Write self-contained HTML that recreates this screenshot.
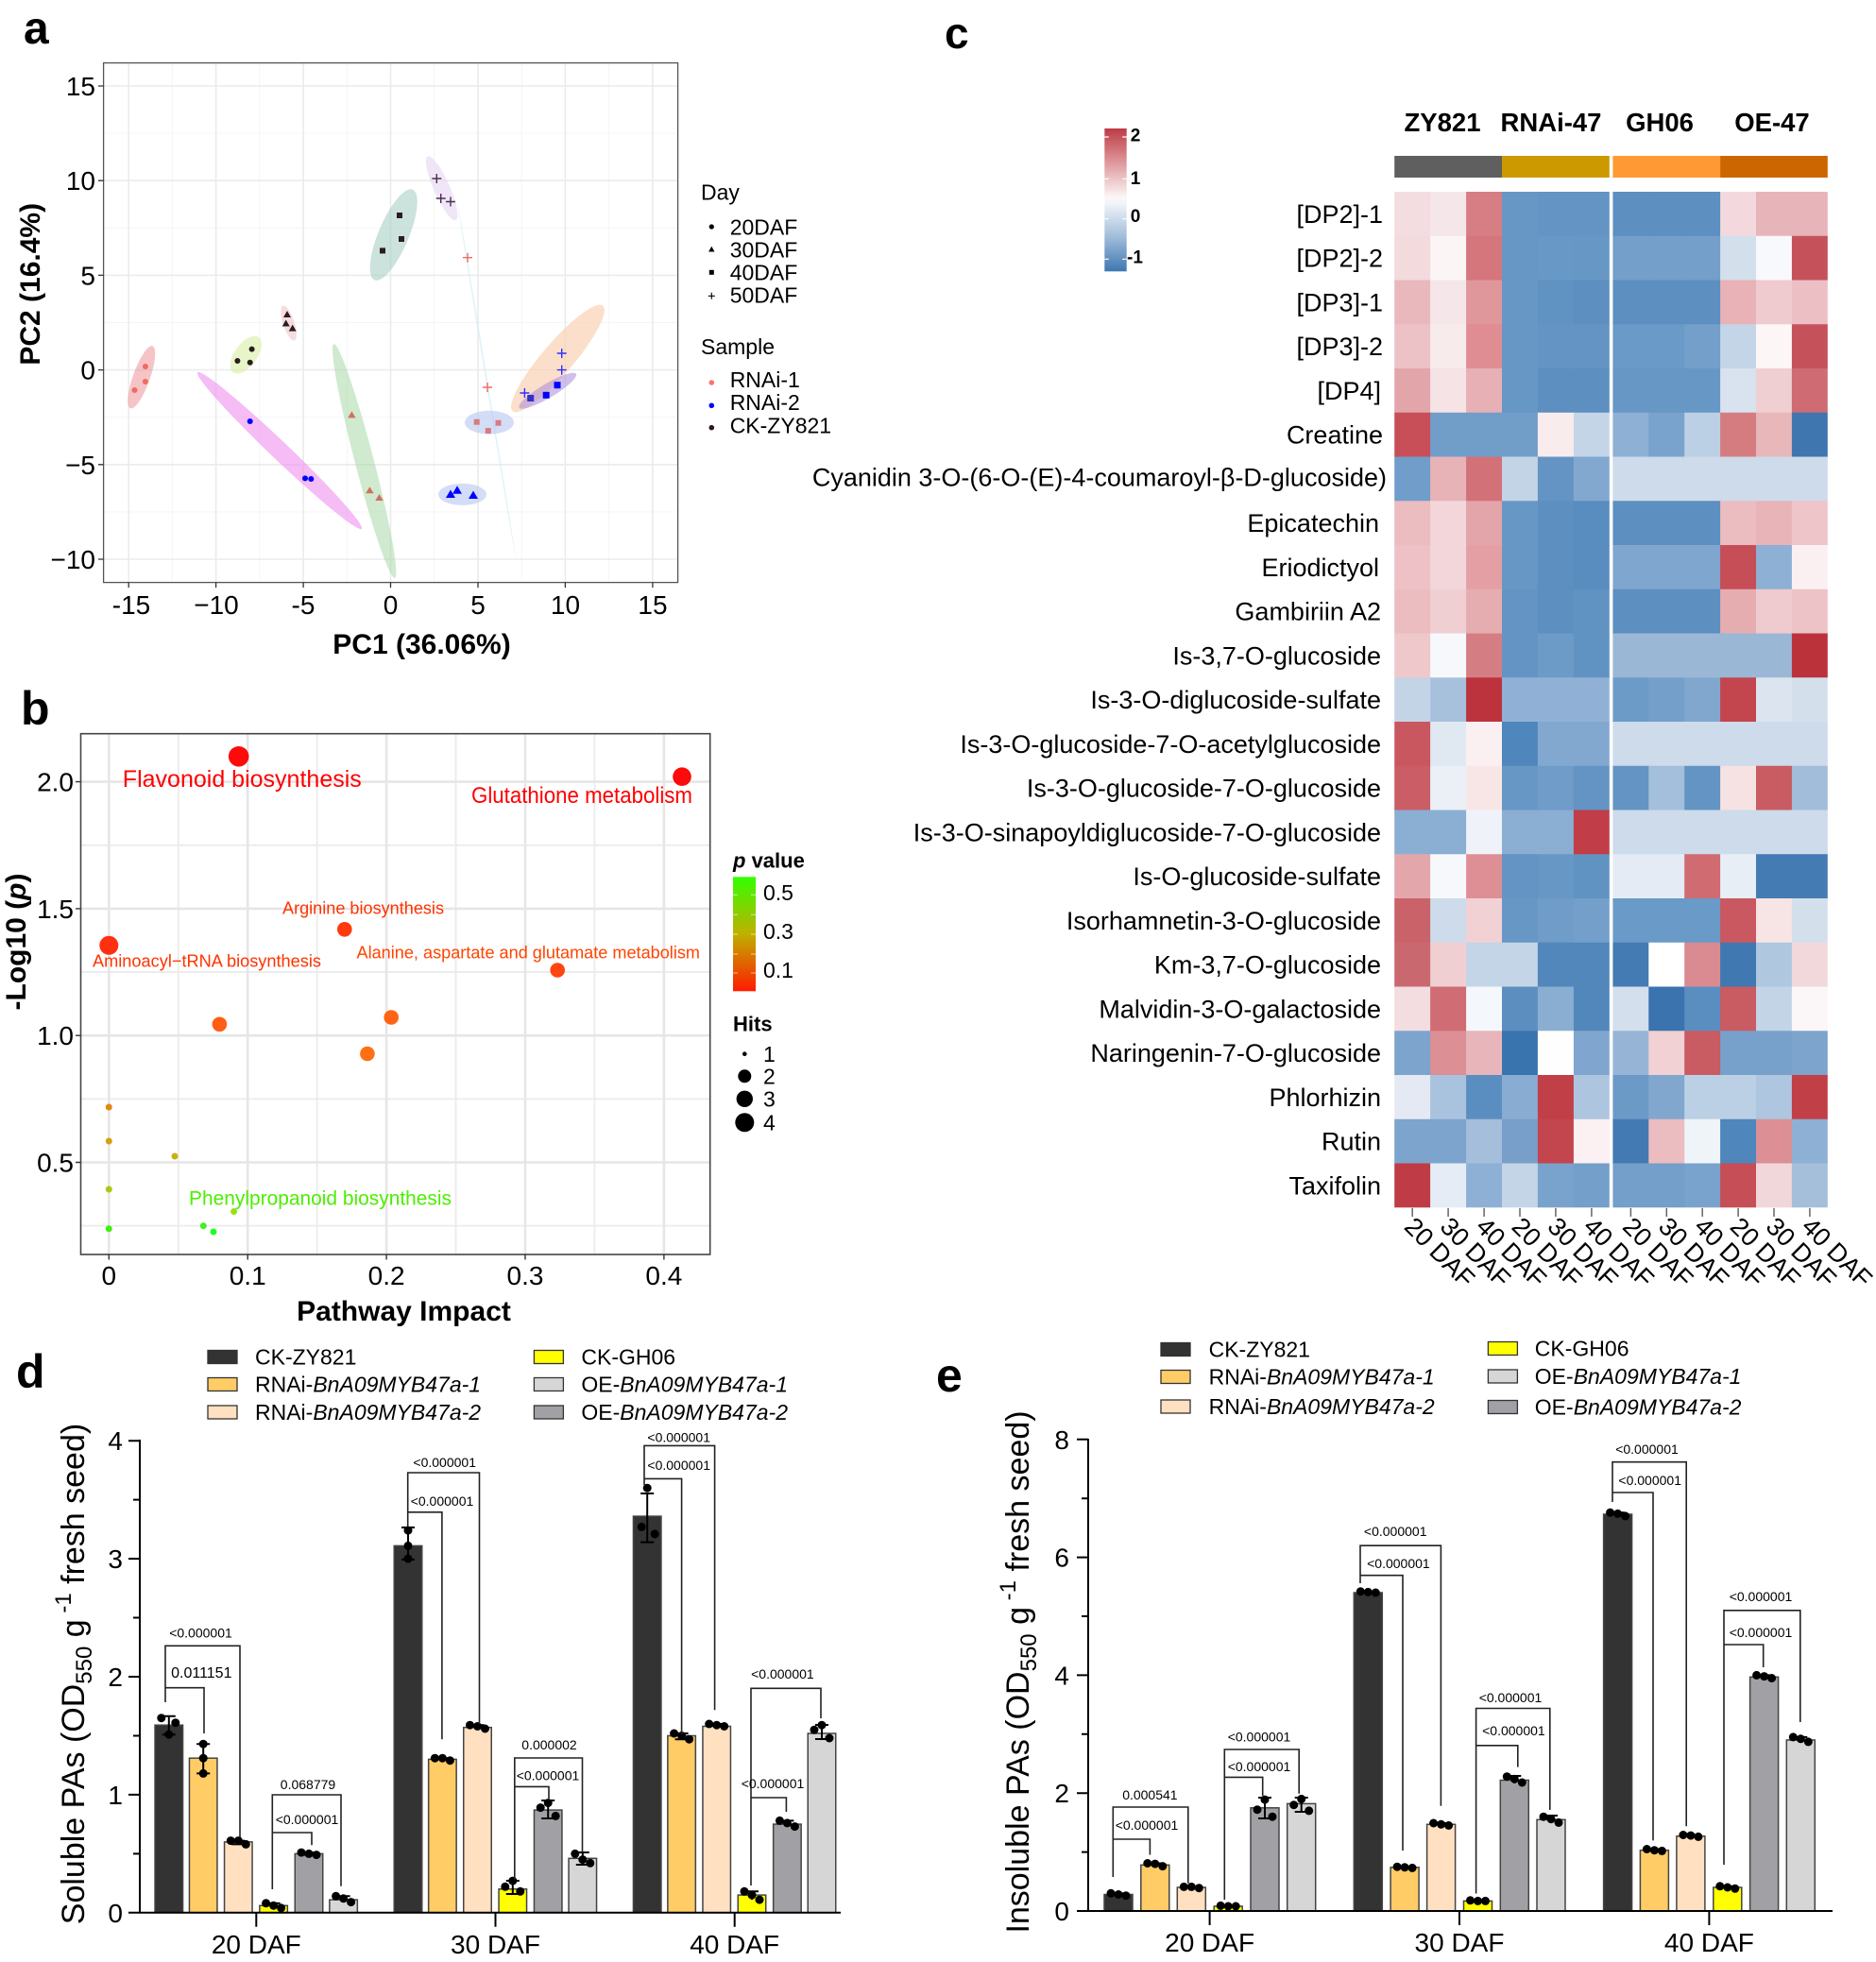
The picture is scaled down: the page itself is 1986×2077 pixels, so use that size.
<!DOCTYPE html>
<html><head><meta charset="utf-8"><style>
html,body{margin:0;padding:0;background:#fff;}
svg{display:block;}
text{font-family:"Liberation Sans",Arial,sans-serif;fill:#000;}
.b{font-weight:bold;}
</style></head><body>
<svg width="1986" height="2077" viewBox="0 0 1986 2077" xmlns="http://www.w3.org/2000/svg">
<defs>
<linearGradient id="gp" x1="0" y1="0" x2="0" y2="1"><stop offset="0" stop-color="#33ff00"/><stop offset="0.5" stop-color="#c0b000"/><stop offset="1" stop-color="#ff1a00"/></linearGradient>
<linearGradient id="gh" x1="0" y1="0" x2="0" y2="1"><stop offset="0" stop-color="#bd3b45"/><stop offset="0.25" stop-color="#df9ca0"/><stop offset="0.48" stop-color="#fbf6f6"/><stop offset="0.52" stop-color="#f2f5fa"/><stop offset="0.75" stop-color="#a4bfdb"/><stop offset="1" stop-color="#3f77b1"/></linearGradient>
</defs>
<rect width="1986" height="2077" fill="#fff"/>

<!-- ============ PANEL A ============ -->
<text x="25" y="46" font-size="48" class="b">a</text>
<rect x="109.6" y="66.6" width="608" height="550" fill="#fff"/>
<g stroke="#f4f4f4" stroke-width="0.9">
<line x1="182.4" y1="66.6" x2="182.4" y2="616.6"/><line x1="274.8" y1="66.6" x2="274.8" y2="616.6"/><line x1="367.3" y1="66.6" x2="367.3" y2="616.6"/><line x1="459.7" y1="66.6" x2="459.7" y2="616.6"/><line x1="552.2" y1="66.6" x2="552.2" y2="616.6"/><line x1="644.6" y1="66.6" x2="644.6" y2="616.6"/>
<line x1="109.6" y1="141.1" x2="717.6" y2="141.1"/><line x1="109.6" y1="241.3" x2="717.6" y2="241.3"/><line x1="109.6" y1="341.5" x2="717.6" y2="341.5"/><line x1="109.6" y1="441.7" x2="717.6" y2="441.7"/><line x1="109.6" y1="541.9" x2="717.6" y2="541.9"/>
</g>
<g stroke="#ebebeb" stroke-width="1.6">
<line x1="136.2" y1="66.6" x2="136.2" y2="616.6"/><line x1="228.6" y1="66.6" x2="228.6" y2="616.6"/><line x1="321.1" y1="66.6" x2="321.1" y2="616.6"/><line x1="413.5" y1="66.6" x2="413.5" y2="616.6"/><line x1="506" y1="66.6" x2="506" y2="616.6"/><line x1="598.4" y1="66.6" x2="598.4" y2="616.6"/><line x1="690.9" y1="66.6" x2="690.9" y2="616.6"/>
<line x1="109.6" y1="91" x2="717.6" y2="91"/><line x1="109.6" y1="191.2" x2="717.6" y2="191.2"/><line x1="109.6" y1="291.4" x2="717.6" y2="291.4"/><line x1="109.6" y1="391.6" x2="717.6" y2="391.6"/><line x1="109.6" y1="491.8" x2="717.6" y2="491.8"/><line x1="109.6" y1="592" x2="717.6" y2="592"/>
</g>
<!-- ellipses -->
<g>
<ellipse cx="0" cy="0" rx="35" ry="9" transform="translate(149.8,399.3) rotate(109.5)" fill="#ee8a90" fill-opacity="0.5"/>
<ellipse cx="0" cy="0" rx="23" ry="12" transform="translate(260.3,375.6) rotate(125.9)" fill="#d6ec9a" fill-opacity="0.55"/>
<ellipse cx="0" cy="0" rx="19.5" ry="6" transform="translate(305.6,342) rotate(71.9)" fill="#f0c4cc" fill-opacity="0.6"/>
<ellipse cx="0" cy="0" rx="120" ry="9.5" transform="translate(296,477) rotate(43.65)" fill="#ee90ee" fill-opacity="0.6"/>
<ellipse cx="0" cy="0" rx="128" ry="10" transform="translate(385.7,488) rotate(75.4)" fill="#a8d8a8" fill-opacity="0.55"/>
<ellipse cx="0" cy="0" rx="52" ry="16" transform="translate(416.7,248.6) rotate(112.9)" fill="#a8cfc6" fill-opacity="0.6"/>
<ellipse cx="0" cy="0" rx="37" ry="8.5" transform="translate(467.7,199.3) rotate(66.3)" fill="#e8d6f2" fill-opacity="0.6"/>
<ellipse cx="0" cy="0" rx="190" ry="0.9" transform="translate(515.2,403) rotate(80.7)" fill="#d2f0f6" fill-opacity="0.7"/>
<ellipse cx="0" cy="0" rx="73.5" ry="16.5" transform="translate(590.5,379.5) rotate(130.6)" fill="#f9d2b4" fill-opacity="0.7"/>
<ellipse cx="0" cy="0" rx="35" ry="7.5" transform="translate(579.8,413.7) rotate(149.3)" fill="#a98ad8" fill-opacity="0.55"/>
<ellipse cx="518" cy="447.2" rx="26" ry="12.4" fill="#b8c6f0" fill-opacity="0.6"/>
<ellipse cx="489.5" cy="523.4" rx="25.5" ry="11.5" fill="#b8c6f0" fill-opacity="0.6"/>
</g>
<!-- points -->
<g fill="#f06a62">
<circle cx="153.9" cy="388" r="3"/><circle cx="153.9" cy="404" r="3"/><circle cx="142.5" cy="413" r="3"/>
<polygon points="372.4,435.4 376.6,442.4 368.2,442.4" fill="#d2705e"/><polygon points="391.4,515.3 395.6,522.3 387.2,522.3" fill="#d2705e"/><polygon points="401.5,523 405.7,530 397.3,530" fill="#d2705e"/>
<rect x="501.7" y="443.7" width="6" height="6" fill="#d87a80"/><rect x="524.5" y="444.7" width="6" height="6" fill="#d87a80"/><rect x="513.8" y="453" width="6" height="6" fill="#d87a80"/>
</g>
<g stroke="#f06a62" stroke-width="1.4"><path d="M490,272.7h10M495,267.7v10M511,410h10M516,405v10"/></g>
<g fill="#2b1d1d">
<circle cx="251.4" cy="382" r="3"/><circle cx="264.7" cy="383.8" r="3"/><circle cx="266.6" cy="369.6" r="3"/>
<polygon points="304,329 308,336 300,336"/><polygon points="302.7,338.5 306.7,345.5 298.7,345.5"/><polygon points="309.7,343.6 313.7,350.6 305.7,350.6"/>
<rect x="420" y="225" width="6" height="6"/><rect x="422" y="250" width="6" height="6"/><rect x="402" y="262.4" width="6" height="6"/>
</g>
<g stroke="#4a3050" stroke-width="1.4"><path d="M457.3,189h10M462.3,184v10M461.7,210h10M466.7,205v10M472,213.5h10M477,208.5v10"/></g>
<g fill="#0000ff">
<circle cx="264.7" cy="446" r="3"/><circle cx="323" cy="506.4" r="3"/><circle cx="329.3" cy="507" r="3"/>
<polygon points="477,518.5 482,527 472,527"/><polygon points="484,514.2 489,522.7 479,522.7"/><polygon points="501,519.5 506,528 496,528"/>
<rect x="558.2" y="418" width="7" height="7" fill="#3030d0"/><rect x="574.7" y="414.8" width="7" height="7"/><rect x="586.5" y="404.2" width="7" height="7"/>
</g>
<g stroke="#3030ff" stroke-width="1.4"><path d="M550.4,416h10M555.4,411v10M589.7,374h10M594.7,369v10M589.7,391.6h10M594.7,386.6v10"/></g>
<rect x="109.6" y="66.6" width="608" height="550" fill="none" stroke="#555" stroke-width="1.3"/>
<g stroke="#333" stroke-width="1.3">
<path d="M104,91h5.6M104,191.2h5.6M104,291.4h5.6M104,391.6h5.6M104,491.8h5.6M104,592h5.6"/>
<path d="M136.2,616.6v5.5M228.6,616.6v5.5M321.1,616.6v5.5M413.5,616.6v5.5M506,616.6v5.5M598.4,616.6v5.5M690.9,616.6v5.5"/>
</g>
<g font-size="28" text-anchor="end" fill="#222">
<text x="101" y="101">15</text><text x="101" y="201">10</text><text x="101" y="301.5">5</text><text x="101" y="401.5">0</text><text x="101" y="502">−5</text><text x="101" y="602">−10</text>
</g>
<g font-size="28" text-anchor="middle">
<text x="139" y="650">-15</text><text x="229" y="650">−10</text><text x="321" y="650">-5</text><text x="413.5" y="650">0</text><text x="506" y="650">5</text><text x="598.5" y="650">10</text><text x="691" y="650">15</text>
</g>
<text x="446.5" y="692" font-size="30" class="b" text-anchor="middle">PC1 (36.06%)</text>
<text transform="translate(42,300.8) rotate(-90)" font-size="30" class="b" text-anchor="middle">PC2 (16.4%)</text>
<!-- legend a -->
<text x="742" y="211.7" font-size="23">Day</text>
<g font-size="23">
<text x="772.7" y="248.3">20DAF</text><text x="772.7" y="272.7">30DAF</text><text x="772.7" y="296.7">40DAF</text><text x="772.7" y="320.7">50DAF</text>
<text x="742" y="375">Sample</text>
<text x="772.7" y="410">RNAi-1</text><text x="772.7" y="434">RNAi-2</text><text x="772.7" y="458.3">CK-ZY821</text>
</g>
<circle cx="753.3" cy="240" r="2.6" fill="#000"/>
<polygon points="753.3,260.8 756.5,266.5 750.1,266.5" fill="#000"/>
<rect x="750.8" y="285.8" width="5" height="5" fill="#000"/>
<path d="M749.8,313.3h7M753.3,309.8v7" stroke="#000" stroke-width="1.1"/>
<circle cx="753.3" cy="405" r="2.8" fill="#f8766d"/>
<circle cx="753.3" cy="429.3" r="2.8" fill="#0000ff"/>
<circle cx="753.3" cy="452.7" r="2.8" fill="#2b1a1a"/>

<!-- ============ PANEL B ============ -->
<text x="22" y="767" font-size="50" class="b">b</text>
<g stroke="#ebebeb" stroke-width="1.8">
<line x1="188.75" y1="776.7" x2="188.75" y2="1328"/><line x1="335.65" y1="776.7" x2="335.65" y2="1328"/><line x1="482.55" y1="776.7" x2="482.55" y2="1328"/><line x1="629.45" y1="776.7" x2="629.45" y2="1328"/>
<line x1="85.5" y1="894.75" x2="751.7" y2="894.75"/><line x1="85.5" y1="1029.05" x2="751.7" y2="1029.05"/><line x1="85.5" y1="1163.35" x2="751.7" y2="1163.35"/><line x1="85.5" y1="1297.65" x2="751.7" y2="1297.65"/>
</g>
<g stroke="#e6e6e6" stroke-width="2.6">
<line x1="115.3" y1="776.7" x2="115.3" y2="1328"/><line x1="262.2" y1="776.7" x2="262.2" y2="1328"/><line x1="409.1" y1="776.7" x2="409.1" y2="1328"/><line x1="556" y1="776.7" x2="556" y2="1328"/><line x1="702.9" y1="776.7" x2="702.9" y2="1328"/>
<line x1="85.5" y1="827.6" x2="751.7" y2="827.6"/><line x1="85.5" y1="961.9" x2="751.7" y2="961.9"/><line x1="85.5" y1="1096.2" x2="751.7" y2="1096.2"/><line x1="85.5" y1="1230.5" x2="751.7" y2="1230.5"/>
</g>
<rect x="85.5" y="776.7" width="666.2" height="551.3" fill="none" stroke="#444" stroke-width="1.6"/>
<g stroke="#333" stroke-width="1.4">
<path d="M80,827.6h5.5M80,961.9h5.5M80,1096.2h5.5M80,1230.5h5.5"/>
<path d="M115.3,1328v5.5M262.2,1328v5.5M409.1,1328v5.5M556,1328v5.5M702.9,1328v5.5"/>
</g>
<g font-size="28" text-anchor="end">
<text x="78" y="837.6">2.0</text><text x="78" y="972">1.5</text><text x="78" y="1106.2">1.0</text><text x="78" y="1240.5">0.5</text>
</g>
<g font-size="28" text-anchor="middle">
<text x="115.3" y="1360">0</text><text x="262.2" y="1360">0.1</text><text x="409.1" y="1360">0.2</text><text x="556" y="1360">0.3</text><text x="702.9" y="1360">0.4</text>
</g>
<!-- b points -->
<circle cx="115.3" cy="1172" r="3.5" fill="#e08a10"/>
<circle cx="115.3" cy="1208" r="3.5" fill="#d6a010"/>
<circle cx="185" cy="1224" r="3.5" fill="#c8b010"/>
<circle cx="115.3" cy="1259" r="3.5" fill="#b0c810"/>
<circle cx="247.6" cy="1282.5" r="3.5" fill="#98e010"/>
<circle cx="115.3" cy="1300.8" r="3.5" fill="#40f010"/>
<circle cx="215.3" cy="1297.7" r="3.5" fill="#40f020"/>
<circle cx="226" cy="1304" r="3.5" fill="#20ff20"/>
<circle cx="232.4" cy="1084.3" r="7.8" fill="#ff5e14"/>
<circle cx="414.2" cy="1077" r="7.8" fill="#ff6414"/>
<circle cx="388.9" cy="1115.5" r="7.8" fill="#ff6f14"/>
<circle cx="364.8" cy="983.8" r="7.8" fill="#ff3a0a"/>
<circle cx="590.2" cy="1027" r="7.8" fill="#ff4510"/>
<circle cx="115.3" cy="1000.8" r="10" fill="#ff3010"/>
<circle cx="252.7" cy="800.8" r="10.8" fill="#ff0a0a"/>
<circle cx="722" cy="822.2" r="9.8" fill="#ff0a0a"/>
<text x="129.8" y="833" font-size="25" style="fill:#ff0000" textLength="253" lengthAdjust="spacingAndGlyphs">Flavonoid biosynthesis</text>
<text x="499" y="850" font-size="24" style="fill:#ff0000" textLength="234" lengthAdjust="spacingAndGlyphs">Glutathione metabolism</text>
<text x="299" y="967.5" font-size="18.5" style="fill:#ff3300" textLength="171" lengthAdjust="spacingAndGlyphs">Arginine biosynthesis</text>
<text x="98" y="1023.5" font-size="18.5" style="fill:#ff3300" textLength="242" lengthAdjust="spacingAndGlyphs">Aminoacyl−tRNA biosynthesis</text>
<text x="377.5" y="1014.5" font-size="18.5" style="fill:#ff4400" textLength="363.5" lengthAdjust="spacingAndGlyphs">Alanine, aspartate and glutamate metabolism</text>
<text x="200" y="1275.5" font-size="21" style="fill:#4cee00" textLength="278" lengthAdjust="spacingAndGlyphs">Phenylpropanoid biosynthesis</text>
<text x="427.5" y="1398" font-size="30" class="b" text-anchor="middle">Pathway Impact</text>
<text transform="translate(27,997) rotate(-90)" font-size="30" class="b" text-anchor="middle">-Log10 (<tspan font-style="italic">p</tspan>)</text>
<!-- legend b -->
<text x="776" y="918.3" font-size="22" class="b"><tspan font-style="italic">p</tspan> value</text>
<rect x="776" y="928.3" width="24" height="121" fill="url(#gp)"/>
<g stroke="#fff" stroke-opacity="0.6" stroke-width="1"><path d="M776,947.3h5M795,947.3h5M776,968.3h5M795,968.3h5M776,989h5M795,989h5M776,1010h5M795,1010h5M776,1030h5M795,1030h5"/></g>
<g font-size="23"><text x="808" y="953">0.5</text><text x="808" y="994">0.3</text><text x="808" y="1035">0.1</text></g>
<text x="776" y="1091.7" font-size="22" class="b">Hits</text>
<circle cx="788.3" cy="1115.7" r="2.3" fill="#000"/>
<circle cx="788.3" cy="1139.3" r="7" fill="#000"/>
<circle cx="788.3" cy="1163.3" r="8.7" fill="#000"/>
<circle cx="788.3" cy="1188.3" r="10" fill="#000"/>
<g font-size="23"><text x="808" y="1124">1</text><text x="808" y="1147.5">2</text><text x="808" y="1171.5">3</text><text x="808" y="1196.5">4</text></g>

<!-- ============ PANEL C ============ -->
<text x="1000" y="51" font-size="46" class="b">c</text>
<rect x="1169.3" y="136" width="23.4" height="151.3" fill="url(#gh)"/>
<g stroke="#fff" stroke-width="1.2"><path d="M1169.3,145h4.5M1188.2,145h4.5M1169.3,189.3h4.5M1188.2,189.3h4.5M1169.3,231.7h4.5M1188.2,231.7h4.5M1169.3,274.3h4.5M1188.2,274.3h4.5"/></g>
<g font-size="19" class="b"><text x="1196.7" y="149.5">2</text><text x="1196.7" y="195">1</text><text x="1196.7" y="235">0</text><text x="1193" y="278.5">-1</text></g>
<g font-size="27.5" class="b" text-anchor="middle">
<text x="1527" y="139">ZY821</text><text x="1642" y="139">RNAi-47</text><text x="1757" y="139">GH06</text><text x="1876" y="139">OE-47</text>
</g>
<rect x="1476.2" y="165" width="113.8" height="23" fill="#5f5f5f"/>
<rect x="1590" y="165" width="113.8" height="23" fill="#cc9900"/>
<rect x="1707.4" y="165" width="113.7" height="23" fill="#ff9933"/>
<rect x="1821.1" y="165" width="113.7" height="23" fill="#cc6600"/>
<!-- heatmap -->
<g transform="translate(0,203)"><rect x="1476.2" width="38.4" height="47.2" fill="#f3dde0"/><rect x="1514.1" width="38.4" height="47.2" fill="#f5e7e9"/><rect x="1552.1" width="38.4" height="47.2" fill="#d67e84"/><rect x="1590" width="38.4" height="47.2" fill="#6797c5"/><rect x="1627.9" width="38.4" height="47.2" fill="#6394c3"/><rect x="1665.9" width="37.9" height="47.2" fill="#6394c3"/><rect x="1707.4" width="38.4" height="47.2" fill="#5d8fc0"/><rect x="1745.3" width="38.4" height="47.2" fill="#5d8fc0"/><rect x="1783.2" width="38.4" height="47.2" fill="#5d8fc0"/><rect x="1821.1" width="38.4" height="47.2" fill="#f3d9dd"/><rect x="1859" width="38.4" height="47.2" fill="#e7b5b9"/><rect x="1896.9" width="37.9" height="47.2" fill="#e7b5b9"/></g>
<g transform="translate(0,249.75)"><rect x="1476.2" width="38.4" height="47.2" fill="#f2dadd"/><rect x="1514.1" width="38.4" height="47.2" fill="#fbf5f5"/><rect x="1552.1" width="38.4" height="47.2" fill="#d4767c"/><rect x="1590" width="38.4" height="47.2" fill="#6797c5"/><rect x="1627.9" width="38.4" height="47.2" fill="#6898c5"/><rect x="1665.9" width="37.9" height="47.2" fill="#6797c5"/><rect x="1707.4" width="38.4" height="47.2" fill="#739fca"/><rect x="1745.3" width="38.4" height="47.2" fill="#739fca"/><rect x="1783.2" width="38.4" height="47.2" fill="#739fca"/><rect x="1821.1" width="38.4" height="47.2" fill="#d3e0ec"/><rect x="1859" width="38.4" height="47.2" fill="#f8f9fc"/><rect x="1896.9" width="37.9" height="47.2" fill="#c5525a"/></g>
<g transform="translate(0,296.5)"><rect x="1476.2" width="38.4" height="47.2" fill="#e9b8bc"/><rect x="1514.1" width="38.4" height="47.2" fill="#f5e7e9"/><rect x="1552.1" width="38.4" height="47.2" fill="#df979c"/><rect x="1590" width="38.4" height="47.2" fill="#6797c5"/><rect x="1627.9" width="38.4" height="47.2" fill="#6193c2"/><rect x="1665.9" width="37.9" height="47.2" fill="#5d8fc0"/><rect x="1707.4" width="38.4" height="47.2" fill="#5d8fc0"/><rect x="1745.3" width="38.4" height="47.2" fill="#5d8fc0"/><rect x="1783.2" width="38.4" height="47.2" fill="#5d8fc0"/><rect x="1821.1" width="38.4" height="47.2" fill="#e8b2b6"/><rect x="1859" width="38.4" height="47.2" fill="#efcbcf"/><rect x="1896.9" width="37.9" height="47.2" fill="#ebbfc4"/></g>
<g transform="translate(0,343.25)"><rect x="1476.2" width="38.4" height="47.2" fill="#ecc2c6"/><rect x="1514.1" width="38.4" height="47.2" fill="#f8ebec"/><rect x="1552.1" width="38.4" height="47.2" fill="#df8d93"/><rect x="1590" width="38.4" height="47.2" fill="#6797c5"/><rect x="1627.9" width="38.4" height="47.2" fill="#6394c3"/><rect x="1665.9" width="37.9" height="47.2" fill="#6394c3"/><rect x="1707.4" width="38.4" height="47.2" fill="#6a9ac7"/><rect x="1745.3" width="38.4" height="47.2" fill="#6a9ac7"/><rect x="1783.2" width="38.4" height="47.2" fill="#739fca"/><rect x="1821.1" width="38.4" height="47.2" fill="#c3d5e7"/><rect x="1859" width="38.4" height="47.2" fill="#fcf6f6"/><rect x="1896.9" width="37.9" height="47.2" fill="#c5525a"/></g>
<g transform="translate(0,390)"><rect x="1476.2" width="38.4" height="47.2" fill="#e2a5a9"/><rect x="1514.1" width="38.4" height="47.2" fill="#f5e3e5"/><rect x="1552.1" width="38.4" height="47.2" fill="#e6b0b4"/><rect x="1590" width="38.4" height="47.2" fill="#6797c5"/><rect x="1627.9" width="38.4" height="47.2" fill="#5d8fc0"/><rect x="1665.9" width="37.9" height="47.2" fill="#5d8fc0"/><rect x="1707.4" width="38.4" height="47.2" fill="#6797c5"/><rect x="1745.3" width="38.4" height="47.2" fill="#6797c5"/><rect x="1783.2" width="38.4" height="47.2" fill="#6797c5"/><rect x="1821.1" width="38.4" height="47.2" fill="#d8e3ef"/><rect x="1859" width="38.4" height="47.2" fill="#efcfd2"/><rect x="1896.9" width="37.9" height="47.2" fill="#cf6b72"/></g>
<g transform="translate(0,436.75)"><rect x="1476.2" width="38.4" height="47.2" fill="#c84f57"/><rect x="1514.1" width="38.4" height="47.2" fill="#719dc9"/><rect x="1552.1" width="38.4" height="47.2" fill="#719dc9"/><rect x="1590" width="38.4" height="47.2" fill="#719dc9"/><rect x="1627.9" width="38.4" height="47.2" fill="#f9eced"/><rect x="1665.9" width="37.9" height="47.2" fill="#c3d5e7"/><rect x="1707.4" width="38.4" height="47.2" fill="#8eb0d5"/><rect x="1745.3" width="38.4" height="47.2" fill="#79a3cc"/><rect x="1783.2" width="38.4" height="47.2" fill="#bcd0e5"/><rect x="1821.1" width="38.4" height="47.2" fill="#d57c81"/><rect x="1859" width="38.4" height="47.2" fill="#e8b7ba"/><rect x="1896.9" width="37.9" height="47.2" fill="#3f76b0"/></g>
<g transform="translate(0,483.5)"><rect x="1476.2" width="38.4" height="47.2" fill="#709dc9"/><rect x="1514.1" width="38.4" height="47.2" fill="#e7b3b6"/><rect x="1552.1" width="38.4" height="47.2" fill="#d27177"/><rect x="1590" width="38.4" height="47.2" fill="#c2d4e6"/><rect x="1627.9" width="38.4" height="47.2" fill="#6394c3"/><rect x="1665.9" width="37.9" height="47.2" fill="#82a8d0"/><rect x="1707.4" width="227.4" height="47.2" fill="#cddbea"/></g>
<g transform="translate(0,530.25)"><rect x="1476.2" width="38.4" height="47.2" fill="#ebbcc0"/><rect x="1514.1" width="38.4" height="47.2" fill="#f2d6d9"/><rect x="1552.1" width="38.4" height="47.2" fill="#e3a5aa"/><rect x="1590" width="38.4" height="47.2" fill="#6797c5"/><rect x="1627.9" width="38.4" height="47.2" fill="#5d8fc0"/><rect x="1665.9" width="37.9" height="47.2" fill="#598cbf"/><rect x="1707.4" width="114.1" height="47.2" fill="#5d8fc0"/><rect x="1821.1" width="38.4" height="47.2" fill="#ebbcc0"/><rect x="1859" width="38.4" height="47.2" fill="#e8b4b8"/><rect x="1896.9" width="37.9" height="47.2" fill="#eec5c9"/></g>
<g transform="translate(0,577)"><rect x="1476.2" width="38.4" height="47.2" fill="#edc1c5"/><rect x="1514.1" width="38.4" height="47.2" fill="#f2d6d9"/><rect x="1552.1" width="38.4" height="47.2" fill="#e49fa4"/><rect x="1590" width="38.4" height="47.2" fill="#6797c5"/><rect x="1627.9" width="38.4" height="47.2" fill="#5d8fc0"/><rect x="1665.9" width="37.9" height="47.2" fill="#598cbf"/><rect x="1707.4" width="114.1" height="47.2" fill="#7fa6cf"/><rect x="1821.1" width="38.4" height="47.2" fill="#c64e56"/><rect x="1859" width="38.4" height="47.2" fill="#8eb0d5"/><rect x="1896.9" width="37.9" height="47.2" fill="#fbf0f1"/></g>
<g transform="translate(0,623.75)"><rect x="1476.2" width="38.4" height="47.2" fill="#ebbcc0"/><rect x="1514.1" width="38.4" height="47.2" fill="#f0cfd2"/><rect x="1552.1" width="38.4" height="47.2" fill="#e6adb1"/><rect x="1590" width="38.4" height="47.2" fill="#6394c3"/><rect x="1627.9" width="38.4" height="47.2" fill="#5d8fc0"/><rect x="1665.9" width="37.9" height="47.2" fill="#6193c2"/><rect x="1707.4" width="114.1" height="47.2" fill="#5d8fc0"/><rect x="1821.1" width="38.4" height="47.2" fill="#e6adb1"/><rect x="1859" width="38.4" height="47.2" fill="#efcbcf"/><rect x="1896.9" width="37.9" height="47.2" fill="#edc3c7"/></g>
<g transform="translate(0,670.5)"><rect x="1476.2" width="38.4" height="47.2" fill="#efc8cc"/><rect x="1514.1" width="38.4" height="47.2" fill="#f7f8fb"/><rect x="1552.1" width="38.4" height="47.2" fill="#d47e84"/><rect x="1590" width="38.4" height="47.2" fill="#6394c3"/><rect x="1627.9" width="38.4" height="47.2" fill="#6c9bc7"/><rect x="1665.9" width="37.9" height="47.2" fill="#6193c2"/><rect x="1707.4" width="189.9" height="47.2" fill="#9ab8d6"/><rect x="1896.9" width="37.9" height="47.2" fill="#bb323b"/></g>
<g transform="translate(0,717.25)"><rect x="1476.2" width="38.4" height="47.2" fill="#c3d4e6"/><rect x="1514.1" width="38.4" height="47.2" fill="#a7c1dd"/><rect x="1552.1" width="38.4" height="47.2" fill="#bd333d"/><rect x="1590" width="113.8" height="47.2" fill="#90b1d5"/><rect x="1707.4" width="38.4" height="47.2" fill="#6c9bc7"/><rect x="1745.3" width="38.4" height="47.2" fill="#739fca"/><rect x="1783.2" width="38.4" height="47.2" fill="#81a7cf"/><rect x="1821.1" width="38.4" height="47.2" fill="#c3454e"/><rect x="1859" width="38.4" height="47.2" fill="#dbe4ef"/><rect x="1896.9" width="37.9" height="47.2" fill="#d3e0ec"/></g>
<g transform="translate(0,764)"><rect x="1476.2" width="38.4" height="47.2" fill="#c9575f"/><rect x="1514.1" width="38.4" height="47.2" fill="#e0e8f2"/><rect x="1552.1" width="38.4" height="47.2" fill="#fbf0f1"/><rect x="1590" width="38.4" height="47.2" fill="#4f86bb"/><rect x="1627.9" width="75.9" height="47.2" fill="#82a8d0"/><rect x="1707.4" width="227.4" height="47.2" fill="#cddbea"/></g>
<g transform="translate(0,810.75)"><rect x="1476.2" width="38.4" height="47.2" fill="#ca5d65"/><rect x="1514.1" width="38.4" height="47.2" fill="#ebf0f7"/><rect x="1552.1" width="38.4" height="47.2" fill="#f8e6e7"/><rect x="1590" width="38.4" height="47.2" fill="#6797c5"/><rect x="1627.9" width="38.4" height="47.2" fill="#6f9cc8"/><rect x="1665.9" width="37.9" height="47.2" fill="#6394c3"/><rect x="1707.4" width="38.4" height="47.2" fill="#6394c3"/><rect x="1745.3" width="38.4" height="47.2" fill="#a3bfdb"/><rect x="1783.2" width="38.4" height="47.2" fill="#6394c3"/><rect x="1821.1" width="38.4" height="47.2" fill="#f6e2e3"/><rect x="1859" width="38.4" height="47.2" fill="#c95b62"/><rect x="1896.9" width="37.9" height="47.2" fill="#a1bdda"/></g>
<g transform="translate(0,857.5)"><rect x="1476.2" width="76.3" height="47.2" fill="#8baed3"/><rect x="1552.1" width="38.4" height="47.2" fill="#eff3f9"/><rect x="1590" width="76.3" height="47.2" fill="#8baed3"/><rect x="1665.9" width="37.9" height="47.2" fill="#c13d47"/><rect x="1707.4" width="227.4" height="47.2" fill="#cddbea"/></g>
<g transform="translate(0,904.25)"><rect x="1476.2" width="38.4" height="47.2" fill="#e3a7ab"/><rect x="1514.1" width="38.4" height="47.2" fill="#f7f8fb"/><rect x="1552.1" width="38.4" height="47.2" fill="#dd8f95"/><rect x="1590" width="38.4" height="47.2" fill="#6394c3"/><rect x="1627.9" width="38.4" height="47.2" fill="#6797c5"/><rect x="1665.9" width="37.9" height="47.2" fill="#6193c2"/><rect x="1707.4" width="76.3" height="47.2" fill="#e4ebf4"/><rect x="1783.2" width="38.4" height="47.2" fill="#cf6b71"/><rect x="1821.1" width="38.4" height="47.2" fill="#e8eef6"/><rect x="1859" width="75.8" height="47.2" fill="#457bb3"/></g>
<g transform="translate(0,951)"><rect x="1476.2" width="38.4" height="47.2" fill="#ca626a"/><rect x="1514.1" width="38.4" height="47.2" fill="#cddbea"/><rect x="1552.1" width="38.4" height="47.2" fill="#f1d1d4"/><rect x="1590" width="38.4" height="47.2" fill="#6797c5"/><rect x="1627.9" width="38.4" height="47.2" fill="#6f9cc8"/><rect x="1665.9" width="37.9" height="47.2" fill="#739fca"/><rect x="1707.4" width="114.1" height="47.2" fill="#6a9ac7"/><rect x="1821.1" width="38.4" height="47.2" fill="#ca5860"/><rect x="1859" width="38.4" height="47.2" fill="#f7e4e5"/><rect x="1896.9" width="37.9" height="47.2" fill="#d3e0ec"/></g>
<g transform="translate(0,997.75)"><rect x="1476.2" width="38.4" height="47.2" fill="#ca6870"/><rect x="1514.1" width="38.4" height="47.2" fill="#f0cfd2"/><rect x="1552.1" width="76.3" height="47.2" fill="#c3d5e7"/><rect x="1627.9" width="75.9" height="47.2" fill="#5287bb"/><rect x="1707.4" width="38.4" height="47.2" fill="#457bb3"/><rect x="1745.3" width="38.4" height="47.2" fill="#ffffff"/><rect x="1783.2" width="38.4" height="47.2" fill="#d98b91"/><rect x="1821.1" width="38.4" height="47.2" fill="#4078b2"/><rect x="1859" width="38.4" height="47.2" fill="#b0c7e0"/><rect x="1896.9" width="37.9" height="47.2" fill="#f2d8db"/></g>
<g transform="translate(0,1044.5)"><rect x="1476.2" width="38.4" height="47.2" fill="#f3dde0"/><rect x="1514.1" width="38.4" height="47.2" fill="#d06c73"/><rect x="1552.1" width="38.4" height="47.2" fill="#f4f8fc"/><rect x="1590" width="38.4" height="47.2" fill="#5c8fc0"/><rect x="1627.9" width="38.4" height="47.2" fill="#8aadd2"/><rect x="1665.9" width="37.9" height="47.2" fill="#5287bb"/><rect x="1707.4" width="38.4" height="47.2" fill="#d3dfec"/><rect x="1745.3" width="38.4" height="47.2" fill="#3a73ae"/><rect x="1783.2" width="38.4" height="47.2" fill="#5b8ec0"/><rect x="1821.1" width="38.4" height="47.2" fill="#c95b62"/><rect x="1859" width="38.4" height="47.2" fill="#c2d4e6"/><rect x="1896.9" width="37.9" height="47.2" fill="#fbf7f8"/></g>
<g transform="translate(0,1091.25)"><rect x="1476.2" width="38.4" height="47.2" fill="#7ca4cc"/><rect x="1514.1" width="38.4" height="47.2" fill="#dc8f95"/><rect x="1552.1" width="38.4" height="47.2" fill="#e8b6ba"/><rect x="1590" width="38.4" height="47.2" fill="#3a74af"/><rect x="1627.9" width="38.4" height="47.2" fill="#fefefe"/><rect x="1665.9" width="37.9" height="47.2" fill="#80a6cf"/><rect x="1707.4" width="38.4" height="47.2" fill="#96b5d6"/><rect x="1745.3" width="38.4" height="47.2" fill="#f1d1d4"/><rect x="1783.2" width="38.4" height="47.2" fill="#c95b62"/><rect x="1821.1" width="76.3" height="47.2" fill="#77a1cb"/><rect x="1896.9" width="37.9" height="47.2" fill="#7ca4cc"/></g>
<g transform="translate(0,1138)"><rect x="1476.2" width="38.4" height="47.2" fill="#e4e9f3"/><rect x="1514.1" width="38.4" height="47.2" fill="#a9c2de"/><rect x="1552.1" width="38.4" height="47.2" fill="#5b8ec0"/><rect x="1590" width="38.4" height="47.2" fill="#88acd2"/><rect x="1627.9" width="38.4" height="47.2" fill="#c13f47"/><rect x="1665.9" width="37.9" height="47.2" fill="#adc5df"/><rect x="1707.4" width="38.4" height="47.2" fill="#6b9ac7"/><rect x="1745.3" width="38.4" height="47.2" fill="#81a7cf"/><rect x="1783.2" width="76.3" height="47.2" fill="#bcd0e5"/><rect x="1859" width="38.4" height="47.2" fill="#aec6df"/><rect x="1896.9" width="37.9" height="47.2" fill="#c13f47"/></g>
<g transform="translate(0,1184.75)"><rect x="1476.2" width="76.3" height="47.2" fill="#7ca4cc"/><rect x="1552.1" width="38.4" height="47.2" fill="#a4bedb"/><rect x="1590" width="38.4" height="47.2" fill="#779fca"/><rect x="1627.9" width="38.4" height="47.2" fill="#c3454e"/><rect x="1665.9" width="37.9" height="47.2" fill="#fbf0f2"/><rect x="1707.4" width="38.4" height="47.2" fill="#447ab3"/><rect x="1745.3" width="38.4" height="47.2" fill="#ebbcc0"/><rect x="1783.2" width="38.4" height="47.2" fill="#eff4f9"/><rect x="1821.1" width="38.4" height="47.2" fill="#4f86bb"/><rect x="1859" width="38.4" height="47.2" fill="#dc8f95"/><rect x="1896.9" width="37.9" height="47.2" fill="#8eb0d5"/></g>
<g transform="translate(0,1231.5)"><rect x="1476.2" width="38.4" height="46.8" fill="#bf3b45"/><rect x="1514.1" width="38.4" height="46.8" fill="#e6ecf5"/><rect x="1552.1" width="38.4" height="46.8" fill="#8eb0d5"/><rect x="1590" width="38.4" height="46.8" fill="#c4d5e7"/><rect x="1627.9" width="38.4" height="46.8" fill="#79a3cc"/><rect x="1665.9" width="37.9" height="46.8" fill="#739fca"/><rect x="1707.4" width="76.3" height="46.8" fill="#739fca"/><rect x="1783.2" width="38.4" height="46.8" fill="#79a3cc"/><rect x="1821.1" width="38.4" height="46.8" fill="#c64e56"/><rect x="1859" width="38.4" height="46.8" fill="#f1d7da"/><rect x="1896.9" width="37.9" height="46.8" fill="#a5bfdb"/></g>
<!-- row labels -->
<g font-size="27" text-anchor="end">
<text x="1464" y="235.9">[DP2]-1</text>
<text x="1464" y="282.6">[DP2]-2</text>
<text x="1464" y="329.4">[DP3]-1</text>
<text x="1464" y="376.1">[DP3]-2</text>
<text x="1462" y="422.9">[DP4]</text>
<text x="1464" y="469.6">Creatine</text>
<text x="1468" y="514.4">Cyanidin 3-O-(6-O-(E)-4-coumaroyl-β-D-glucoside)</text>
<text x="1460" y="563.1">Epicatechin</text>
<text x="1460" y="609.9">Eriodictyol</text>
<text x="1462" y="656.6">Gambiriin A2</text>
<text x="1462" y="703.4">Is-3,7-O-glucoside</text>
<text x="1462" y="750.1">Is-3-O-diglucoside-sulfate</text>
<text x="1462" y="796.9">Is-3-O-glucoside-7-O-acetylglucoside</text>
<text x="1462" y="843.6">Is-3-O-glucoside-7-O-glucoside</text>
<text x="1462" y="890.4">Is-3-O-sinapoyldiglucoside-7-O-glucoside</text>
<text x="1462" y="937.1">Is-O-glucoside-sulfate</text>
<text x="1462" y="983.9">Isorhamnetin-3-O-glucoside</text>
<text x="1462" y="1030.6">Km-3,7-O-glucoside</text>
<text x="1462" y="1077.4">Malvidin-3-O-galactoside</text>
<text x="1462" y="1124.1">Naringenin-7-O-glucoside</text>
<text x="1462" y="1170.9">Phlorhizin</text>
<text x="1462" y="1217.6">Rutin</text>
<text x="1462" y="1264.4">Taxifolin</text>
</g>
<g stroke="#666" stroke-width="1.5"><path d="M1495.2,1279v9M1533.1,1279v9M1571.1,1279v9M1609,1279v9M1646.9,1279v9M1684.9,1279v9M1726.4,1279v9M1764.3,1279v9M1802.2,1279v9M1840.1,1279v9M1878,1279v9M1915.9,1279v9"/></g>
<g font-size="27">
<text transform="translate(1485.2,1300) rotate(45)">20 DAF</text>
<text transform="translate(1523.1,1300) rotate(45)">30 DAF</text>
<text transform="translate(1561.1,1300) rotate(45)">40 DAF</text>
<text transform="translate(1599,1300) rotate(45)">20 DAF</text>
<text transform="translate(1636.9,1300) rotate(45)">30 DAF</text>
<text transform="translate(1674.9,1300) rotate(45)">40 DAF</text>
<text transform="translate(1716.4,1300) rotate(45)">20 DAF</text>
<text transform="translate(1754.3,1300) rotate(45)">30 DAF</text>
<text transform="translate(1792.2,1300) rotate(45)">40 DAF</text>
<text transform="translate(1830.1,1300) rotate(45)">20 DAF</text>
<text transform="translate(1868,1300) rotate(45)">30 DAF</text>
<text transform="translate(1905.9,1300) rotate(45)">40 DAF</text>
</g>

<!-- ============ PANEL D ============ -->
<text x="17" y="1469" font-size="50" class="b">d</text>
<g stroke="#333" stroke-width="1.3">
<rect x="220" y="1429.5" width="31" height="14" fill="#333333"/>
<rect x="220" y="1458.5" width="31" height="14" fill="#ffcc66"/>
<rect x="220" y="1488" width="31" height="14" fill="#ffe0c0"/>
<rect x="565.4" y="1429.5" width="31" height="14" fill="#ffff00"/>
<rect x="565.4" y="1458.5" width="31" height="14" fill="#d6d6d6"/>
<rect x="565.4" y="1488" width="31" height="14" fill="#a0a0a5"/>
</g>
<g font-size="23">
<text x="270" y="1444.5">CK-ZY821</text>
<text x="270" y="1473.5">RNAi-<tspan font-style="italic">BnA09MYB47a-1</tspan></text>
<text x="270" y="1503">RNAi-<tspan font-style="italic">BnA09MYB47a-2</tspan></text>
<text x="615.4" y="1444.5">CK-GH06</text>
<text x="615.4" y="1473.5">OE-<tspan font-style="italic">BnA09MYB47a-1</tspan></text>
<text x="615.4" y="1503">OE-<tspan font-style="italic">BnA09MYB47a-2</tspan></text>
</g>
<!-- bars d -->
<g stroke="#444" stroke-width="1.5">
<rect x="164.05" y="1826.2" width="29.5" height="198.6" fill="#333333"/>
<rect x="200.45" y="1861.2" width="29.5" height="163.6" fill="#ffcc66"/>
<rect x="237.55" y="1949.9" width="29.5" height="74.9" fill="#ffe0c0"/>
<rect x="274.85" y="2017.3" width="29.5" height="7.5" fill="#ffff00"/>
<rect x="312.25" y="1962.4" width="29.5" height="62.4" fill="#a0a0a5"/>
<rect x="348.85" y="2011.1" width="29.5" height="13.7" fill="#d6d6d6"/>
<rect x="417.25" y="1636.4" width="29.5" height="388.4" fill="#333333"/>
<rect x="453.65" y="1862.4" width="29.5" height="162.4" fill="#ffcc66"/>
<rect x="490.75" y="1828.7" width="29.5" height="196.1" fill="#ffe0c0"/>
<rect x="528.05" y="1999.8" width="29.5" height="25" fill="#ffff00"/>
<rect x="565.45" y="1916.1" width="29.5" height="108.7" fill="#a0a0a5"/>
<rect x="602.05" y="1967.3" width="29.5" height="57.5" fill="#d6d6d6"/>
<rect x="670.45" y="1605.1" width="29.5" height="419.7" fill="#333333"/>
<rect x="706.85" y="1837.5" width="29.5" height="187.3" fill="#ffcc66"/>
<rect x="743.95" y="1827.5" width="29.5" height="197.3" fill="#ffe0c0"/>
<rect x="781.25" y="2006.1" width="29.5" height="18.7" fill="#ffff00"/>
<rect x="818.65" y="1931.1" width="29.5" height="93.7" fill="#a0a0a5"/>
<rect x="855.25" y="1835" width="29.5" height="189.8" fill="#d6d6d6"/>
</g>
<!-- error bars d -->
<g stroke="#000" stroke-width="2" fill="none">
<path d="M178.8,1816.8V1836.2M171.8,1816.8h14M171.8,1836.2h14"/>
<path d="M215.2,1846.2V1877.4M208.2,1846.2h14M208.2,1877.4h14"/>
<path d="M245.3,1948.6h14M245.3,1952.4h14"/>
<path d="M282.6,2014.8h14"/>
<path d="M320,1961.1h14M320,1963.6h14"/>
<path d="M356.6,2007.3h14M363.6,2007.3V2013.6"/>
<path d="M432,1617V1651M425,1617h14M425,1651h14"/>
<path d="M461.4,1861.2h14"/>
<path d="M498.5,1826.2h14"/>
<path d="M542.8,1991V2005M535.8,1991h14M535.8,2005h14"/>
<path d="M580.2,1906V1925M573.2,1906h14M573.2,1925h14"/>
<path d="M616.8,1961V1974M609.8,1961h14M609.8,1974h14"/>
<path d="M685.2,1581V1632.6M678.2,1581h14M678.2,1632.6h14"/>
<path d="M714.6,1835h14M714.6,1841.2h14"/>
<path d="M751.7,1825h14"/>
<path d="M789,2002.3h14M796,2002.3V2011.1"/>
<path d="M826.4,1927.4h14"/>
<path d="M870,1826V1841M863,1826h14M863,1841h14"/>
</g>
<g fill="#000">
<circle cx="170.8" cy="1818.7" r="4.5"/><circle cx="185.8" cy="1823.7" r="4.5"/><circle cx="178.8" cy="1836.2" r="4.5"/>
<circle cx="215.2" cy="1846.2" r="4.5"/><circle cx="215.2" cy="1861.2" r="4.5"/><circle cx="215.2" cy="1877.4" r="4.5"/>
<circle cx="244.3" cy="1948.6" r="4.5"/><circle cx="252.3" cy="1948.6" r="4.5"/><circle cx="260.3" cy="1952.4" r="4.5"/>
<circle cx="281.6" cy="2014.8" r="4.5"/><circle cx="289.6" cy="2017.3" r="4.5"/><circle cx="297.6" cy="2019.8" r="4.5"/>
<circle cx="319" cy="1961.1" r="4.5"/><circle cx="327" cy="1962.4" r="4.5"/><circle cx="335" cy="1963.6" r="4.5"/>
<circle cx="355.6" cy="2007.3" r="4.5"/><circle cx="363.6" cy="2009.8" r="4.5"/><circle cx="371.6" cy="2013.6" r="4.5"/>
<circle cx="432" cy="1620.1" r="4.5"/><circle cx="432" cy="1636.4" r="4.5"/><circle cx="432" cy="1650.1" r="4.5"/>
<circle cx="460.4" cy="1861.2" r="4.5"/><circle cx="468.4" cy="1861.2" r="4.5"/><circle cx="476.4" cy="1863.7" r="4.5"/>
<circle cx="497.5" cy="1826.2" r="4.5"/><circle cx="505.5" cy="1827.5" r="4.5"/><circle cx="513.5" cy="1830" r="4.5"/>
<circle cx="534.8" cy="1997.3" r="4.5"/><circle cx="542.8" cy="1991.1" r="4.5"/><circle cx="550.8" cy="2002.3" r="4.5"/>
<circle cx="572.2" cy="1913.6" r="4.5"/><circle cx="580.2" cy="1908.6" r="4.5"/><circle cx="588.2" cy="1922.4" r="4.5"/>
<circle cx="608.8" cy="1962.4" r="4.5"/><circle cx="616.8" cy="1968.6" r="4.5"/><circle cx="624.8" cy="1972.3" r="4.5"/>
<circle cx="685.2" cy="1575.2" r="4.5"/><circle cx="679.2" cy="1616.4" r="4.5"/><circle cx="693.2" cy="1623.9" r="4.5"/>
<circle cx="713.6" cy="1835" r="4.5"/><circle cx="721.6" cy="1837.5" r="4.5"/><circle cx="729.6" cy="1841.2" r="4.5"/>
<circle cx="750.7" cy="1825" r="4.5"/><circle cx="758.7" cy="1826.2" r="4.5"/><circle cx="766.7" cy="1827.5" r="4.5"/>
<circle cx="788" cy="2002.3" r="4.5"/><circle cx="796" cy="2006.1" r="4.5"/><circle cx="804" cy="2011.1" r="4.5"/>
<circle cx="825.4" cy="1927.4" r="4.5"/><circle cx="833.4" cy="1929.9" r="4.5"/><circle cx="841.4" cy="1933.6" r="4.5"/>
<circle cx="862" cy="1831.2" r="4.5"/><circle cx="870" cy="1826.2" r="4.5"/><circle cx="878" cy="1840" r="4.5"/>
</g>
<!-- brackets d -->
<g stroke="#222" stroke-width="1.6" fill="none">
<polyline points="175,1802 175,1742.3 254,1742.3 254,1945"/>
<polyline points="175,1786.7 216,1786.7 216,1835"/>
<polyline points="288.3,2000 288.3,1900 361,1900 361,1996.7"/>
<polyline points="288.3,1940 330,1940 330,1953.3"/>
<polyline points="431.7,1616 431.7,1559 507.5,1559 507.5,1825.3"/>
<polyline points="431.7,1600.8 467.9,1600.8 467.9,1841.3"/>
<polyline points="544.8,1989.4 544.8,1861 616.5,1861 616.5,1961"/>
<polyline points="544.8,1891.4 581,1891.4 581,1904.3"/>
<polyline points="682,1572 682,1530.4 756.6,1530.4 756.6,1810.2"/>
<polyline points="682,1565.4 721.6,1565.4 721.6,1836"/>
<polyline points="795,1996 795,1787.3 869,1787.3 869,1819"/>
<polyline points="795,1903 832.4,1903 832.4,1918"/>
</g>
<g font-size="14" text-anchor="middle">
<text x="212.5" y="1733.3">&lt;0.000001</text>
<text x="213.3" y="1776" font-size="16">0.011151</text>
<text x="326" y="1894">0.068779</text>
<text x="325" y="1931">&lt;0.000001</text>
<text x="470.7" y="1553">&lt;0.000001</text>
<text x="468" y="1594">&lt;0.000001</text>
<text x="581.5" y="1852">0.000002</text>
<text x="580" y="1884.5">&lt;0.000001</text>
<text x="718.7" y="1526.5">&lt;0.000001</text>
<text x="718.7" y="1556">&lt;0.000001</text>
<text x="828.4" y="1777">&lt;0.000001</text>
<text x="818" y="1893">&lt;0.000001</text>
</g>
<!-- axes d -->
<g stroke="#000" stroke-width="2" fill="none">
<path d="M148,1524V2024.8H890"/>
<path d="M136,2024.8h12M136,1899.9h12M136,1775h12M136,1650.1h12M136,1525.2h12"/>
<path d="M141,1962.35h7M141,1837.45h7M141,1712.55h7M141,1587.65h7"/>
<path d="M271.3,2024.8v15M524.5,2024.8v15M777.7,2024.8v15"/>
</g>
<g font-size="28" text-anchor="end">
<text x="130" y="2035">0</text><text x="130" y="1910">1</text><text x="130" y="1785">2</text><text x="130" y="1660">3</text><text x="130" y="1535">4</text>
</g>
<g font-size="28" text-anchor="middle">
<text x="271.3" y="2068">20 DAF</text><text x="524.5" y="2068">30 DAF</text><text x="777.7" y="2068">40 DAF</text>
</g>
<text transform="translate(89,1772) rotate(-90)" text-anchor="middle" font-size="34">Soluble PAs (OD<tspan font-size="24" dy="8">550</tspan><tspan dy="-8"> g</tspan><tspan font-size="24" dy="-14"> -1</tspan><tspan dy="14"> fresh seed)</tspan></text>

<!-- ============ PANEL E ============ -->
<text x="991" y="1473" font-size="50" class="b">e</text>
<g stroke="#333" stroke-width="1.3">
<rect x="1229" y="1421.5" width="31" height="14" fill="#333333"/>
<rect x="1229" y="1450.5" width="31" height="14" fill="#ffcc66"/>
<rect x="1229" y="1482" width="31" height="14" fill="#ffe0c0"/>
<rect x="1575.4" y="1420.5" width="31" height="14" fill="#ffff00"/>
<rect x="1575.4" y="1450" width="31" height="14" fill="#d6d6d6"/>
<rect x="1575.4" y="1482.5" width="31" height="14" fill="#a0a0a5"/>
</g>
<g font-size="23">
<text x="1279.6" y="1436.5">CK-ZY821</text>
<text x="1279.6" y="1465.5">RNAi-<tspan font-style="italic">BnA09MYB47a-1</tspan></text>
<text x="1279.6" y="1497">RNAi-<tspan font-style="italic">BnA09MYB47a-2</tspan></text>
<text x="1624.8" y="1435.5">CK-GH06</text>
<text x="1624.8" y="1465">OE-<tspan font-style="italic">BnA09MYB47a-1</tspan></text>
<text x="1624.8" y="1497.5">OE-<tspan font-style="italic">BnA09MYB47a-2</tspan></text>
</g>
<g stroke="#444" stroke-width="1.5">
<rect x="1169" y="2005.5" width="30" height="17.5" fill="#333333"/>
<rect x="1207.8" y="1974.3" width="30" height="48.7" fill="#ffcc66"/>
<rect x="1246.3" y="1998" width="30" height="25" fill="#ffe0c0"/>
<rect x="1285.2" y="2018" width="30" height="5" fill="#ffff00"/>
<rect x="1324" y="1913.8" width="30" height="109.2" fill="#a0a0a5"/>
<rect x="1362.7" y="1909.4" width="30" height="113.6" fill="#d6d6d6"/>
<rect x="1433.3" y="1686" width="30" height="337" fill="#333333"/>
<rect x="1472.1" y="1976.8" width="30" height="46.2" fill="#ffcc66"/>
<rect x="1510.6" y="1931.3" width="30" height="91.7" fill="#ffe0c0"/>
<rect x="1549.5" y="2012.4" width="30" height="10.6" fill="#ffff00"/>
<rect x="1588.3" y="1884.5" width="30" height="138.5" fill="#a0a0a5"/>
<rect x="1627" y="1926.3" width="30" height="96.7" fill="#d6d6d6"/>
<rect x="1697.6" y="1603" width="30" height="420" fill="#333333"/>
<rect x="1736.4" y="1958.7" width="30" height="64.3" fill="#ffcc66"/>
<rect x="1774.9" y="1943.8" width="30" height="79.2" fill="#ffe0c0"/>
<rect x="1813.8" y="1998" width="30" height="25" fill="#ffff00"/>
<rect x="1852.6" y="1775.3" width="30" height="247.7" fill="#a0a0a5"/>
<rect x="1891.3" y="1842" width="30" height="181" fill="#d6d6d6"/>
</g>
<g stroke="#000" stroke-width="2" fill="none">
<path d="M1177,2004.3h14"/>
<path d="M1215.8,1972.5h14M1222.8,1972.5V1975.6"/>
<path d="M1254.3,1997.4h14"/>
<path d="M1293.2,2017.4h14"/>
<path d="M1339,1903V1925M1332,1903h14M1332,1925h14"/>
<path d="M1377.7,1903V1918M1370.7,1903h14M1370.7,1918h14"/>
<path d="M1441.3,1684.8h14"/>
<path d="M1480.1,1976.2h14"/>
<path d="M1518.6,1930h14"/>
<path d="M1557.5,2011.8h14"/>
<path d="M1603.3,1880V1888M1596.3,1880h14"/>
<path d="M1642,1922V1930M1635,1922h14"/>
<path d="M1705.6,1601.2h14"/>
<path d="M1744.4,1957.5h14"/>
<path d="M1782.9,1942.5h14"/>
<path d="M1821.8,1996.8h14"/>
<path d="M1860.6,1773.4h14"/>
<path d="M1899.3,1838.9h14"/>
</g>
<g fill="#000">
<circle cx="1176" cy="2004.3" r="4.5"/><circle cx="1184" cy="2005.5" r="4.5"/><circle cx="1192" cy="2006.8" r="4.5"/>
<circle cx="1214.8" cy="1972.5" r="4.5"/><circle cx="1222.8" cy="1973.1" r="4.5"/><circle cx="1230.8" cy="1975.6" r="4.5"/>
<circle cx="1253.3" cy="1997.4" r="4.5"/><circle cx="1261.3" cy="1997.4" r="4.5"/><circle cx="1269.3" cy="1998.7" r="4.5"/>
<circle cx="1292.2" cy="2017.4" r="4.5"/><circle cx="1300.2" cy="2018" r="4.5"/><circle cx="1308.2" cy="2018" r="4.5"/>
<circle cx="1331" cy="1915.7" r="4.5"/><circle cx="1339" cy="1905.1" r="4.5"/><circle cx="1347" cy="1923.2" r="4.5"/>
<circle cx="1369.7" cy="1910.7" r="4.5"/><circle cx="1377.7" cy="1904.4" r="4.5"/><circle cx="1385.7" cy="1916.9" r="4.5"/>
<circle cx="1440.3" cy="1684.8" r="4.5"/><circle cx="1448.3" cy="1685.4" r="4.5"/><circle cx="1456.3" cy="1686" r="4.5"/>
<circle cx="1479.1" cy="1976.2" r="4.5"/><circle cx="1487.1" cy="1976.8" r="4.5"/><circle cx="1495.1" cy="1977.4" r="4.5"/>
<circle cx="1517.6" cy="1930" r="4.5"/><circle cx="1525.6" cy="1931.3" r="4.5"/><circle cx="1533.6" cy="1932.5" r="4.5"/>
<circle cx="1556.5" cy="2011.8" r="4.5"/><circle cx="1564.5" cy="2012.4" r="4.5"/><circle cx="1572.5" cy="2012.4" r="4.5"/>
<circle cx="1595.3" cy="1880.7" r="4.5"/><circle cx="1603.3" cy="1883.2" r="4.5"/><circle cx="1611.3" cy="1887" r="4.5"/>
<circle cx="1634" cy="1923.2" r="4.5"/><circle cx="1642" cy="1925.7" r="4.5"/><circle cx="1650" cy="1929.4" r="4.5"/>
<circle cx="1704.6" cy="1601.2" r="4.5"/><circle cx="1712.6" cy="1602.4" r="4.5"/><circle cx="1720.6" cy="1604.9" r="4.5"/>
<circle cx="1743.4" cy="1957.5" r="4.5"/><circle cx="1751.4" cy="1958.7" r="4.5"/><circle cx="1759.4" cy="1959.4" r="4.5"/>
<circle cx="1781.9" cy="1942.5" r="4.5"/><circle cx="1789.9" cy="1943.1" r="4.5"/><circle cx="1797.9" cy="1944.4" r="4.5"/>
<circle cx="1820.8" cy="1996.8" r="4.5"/><circle cx="1828.8" cy="1998" r="4.5"/><circle cx="1836.8" cy="1999.3" r="4.5"/>
<circle cx="1859.6" cy="1773.4" r="4.5"/><circle cx="1867.6" cy="1774.6" r="4.5"/><circle cx="1875.6" cy="1776.5" r="4.5"/>
<circle cx="1898.3" cy="1838.9" r="4.5"/><circle cx="1906.3" cy="1840.8" r="4.5"/><circle cx="1914.3" cy="1843.9" r="4.5"/>
</g>
<g stroke="#222" stroke-width="1.6" fill="none">
<polyline points="1178.3,1987 1178.3,1913 1257.8,1913 1257.8,1993.7"/>
<polyline points="1178.3,1947 1217.4,1947 1217.4,1963.5"/>
<polyline points="1296.3,2011 1296.3,1852 1375.2,1852 1375.2,1898.7"/>
<polyline points="1296.3,1881.4 1336.7,1881.4 1336.7,1901"/>
<polyline points="1440,1676 1440,1636.2 1525.4,1636.2 1525.4,1911.7"/>
<polyline points="1440,1667.7 1485,1667.7 1485,1959"/>
<polyline points="1562.6,2004.5 1562.6,1808.5 1640.8,1808.5 1640.8,1916"/>
<polyline points="1562.6,1847.8 1606.8,1847.8 1606.8,1870.6"/>
<polyline points="1707,1590 1707,1547.7 1785.2,1547.7 1785.2,1933.3"/>
<polyline points="1707,1580 1750,1580 1750,1948.4"/>
<polyline points="1825,1974 1825,1704.8 1905.8,1704.8 1905.8,1823"/>
<polyline points="1825,1741 1866.7,1741 1866.7,1765"/>
</g>
<g font-size="14" text-anchor="middle">
<text x="1217.4" y="1905">0.000541</text>
<text x="1214" y="1937">&lt;0.000001</text>
<text x="1333" y="1843.5">&lt;0.000001</text>
<text x="1333" y="1875">&lt;0.000001</text>
<text x="1477.2" y="1626">&lt;0.000001</text>
<text x="1480.4" y="1660">&lt;0.000001</text>
<text x="1599" y="1802">&lt;0.000001</text>
<text x="1602.4" y="1837">&lt;0.000001</text>
<text x="1743.5" y="1539">&lt;0.000001</text>
<text x="1746.7" y="1572">&lt;0.000001</text>
<text x="1864" y="1695">&lt;0.000001</text>
<text x="1864" y="1733">&lt;0.000001</text>
</g>
<g stroke="#000" stroke-width="2" fill="none">
<path d="M1152,1523V2023H1940"/>
<path d="M1140,2023h12M1140,1898.2h12M1140,1773.4h12M1140,1648.6h12M1140,1523.8h12"/>
<path d="M1145,1960.6h7M1145,1835.8h7M1145,1711h7M1145,1586.2h7"/>
<path d="M1280.6,2023v15M1545,2023v15M1809.4,2023v15"/>
</g>
<g font-size="28" text-anchor="end">
<text x="1132" y="2033">0</text><text x="1132" y="1908">2</text><text x="1132" y="1783.5">4</text><text x="1132" y="1658.5">6</text><text x="1132" y="1534">8</text>
</g>
<g font-size="28" text-anchor="middle">
<text x="1280.6" y="2066">20 DAF</text><text x="1545" y="2066">30 DAF</text><text x="1809.4" y="2066">40 DAF</text>
</g>
<text transform="translate(1089,1770) rotate(-90)" text-anchor="middle" font-size="34">Insoluble PAs (OD<tspan font-size="24" dy="8">550</tspan><tspan dy="-8"> g</tspan><tspan font-size="24" dy="-14"> -1</tspan><tspan dy="14"> fresh seed)</tspan></text>
</svg>
</body></html>
